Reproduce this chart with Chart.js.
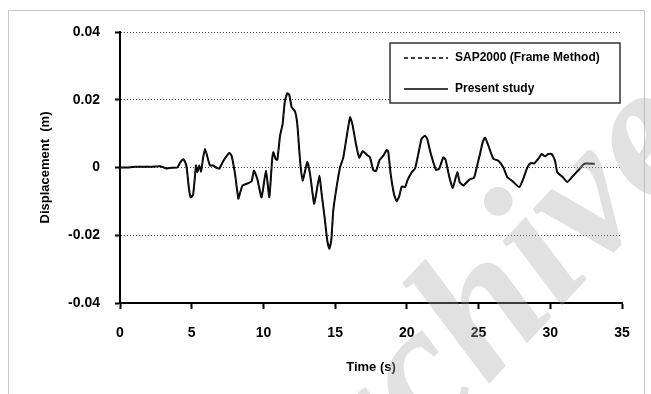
<!DOCTYPE html>
<html>
<head>
<meta charset="utf-8">
<script src="https://cdn.jsdelivr.net/npm/chart.js@4/dist/chart.umd.min.js"></script>
<style>
  html, body { margin: 0; padding: 0; background: #fff; }
  #wrap { width: 651px; height: 394px; position: relative; }
</style>
</head>
<body>
<div id="wrap"><canvas id="c" width="651" height="394"></canvas></div>
<script>
// ---- data ----
const timeS = [0, 0.5, 1.0, 1.5, 2.0, 2.5, 2.8, 3.0, 3.25, 3.6, 4.0, 4.2, 4.42, 4.55, 4.65, 4.8, 4.93, 5.1, 5.3, 5.39,
  5.53, 5.65, 5.8, 5.93, 6.09, 6.27, 6.5, 6.7, 6.93, 7.2, 7.62, 7.78, 8.02, 8.25, 8.37, 8.55, 8.95, 9.18, 9.34, 9.57,
  9.87, 10.18, 10.41, 10.6, 10.69, 10.85, 10.97, 11.16, 11.34, 11.5, 11.67, 11.8, 11.97, 12.2, 12.36, 12.5, 12.6, 12.74, 12.9, 13.06,
  13.25, 13.53, 13.67, 13.9, 14.06, 14.29, 14.45, 14.6, 14.73, 14.87, 15.1, 15.34, 15.57, 15.8, 16.04, 16.2, 16.45, 16.68, 16.92, 17.2,
  17.43, 17.66, 17.85, 18.1, 18.36, 18.59, 18.7, 18.87, 19.1, 19.29, 19.47, 19.64, 19.88, 20.04, 20.34, 20.57, 20.8, 21.03, 21.26, 21.42,
  21.61, 21.84, 22.03, 22.26, 22.54, 22.7, 22.96, 23.2, 23.52, 23.68, 23.94, 24.35, 24.68, 24.87, 25.1, 25.29, 25.45, 25.68, 26.03, 26.38,
  26.73, 27.0, 27.38, 27.84, 28.12, 28.4, 28.63, 28.87, 29.17, 29.4, 29.63, 29.87, 30.1, 30.33, 30.49, 30.86, 31.19, 31.6, 32.07, 32.3,
  32.5, 33.1];

const presentStudy = [0, 0, 0.0002, 0.0002, 0.0002, 0.0003, 0.0004, 0.0001, -0.0003, -0.0001, 0, 0.0015, 0.0024, 0.0015, 0, -0.006, -0.0088, -0.008, 0.0006, -0.0014,
  0.0006, -0.0012, 0.003, 0.0055, 0.0032, 0.0006, 0.0006, 0.0, -0.0003, 0.0019, 0.0043, 0.0035, -0.0019, -0.0092, -0.0075, -0.0053, -0.0046, -0.004, -0.0009, -0.0033,
  -0.0088, -0.0009, -0.0088, 0.002, 0.0045, 0.0025, 0.0023, 0.0094, 0.0129, 0.0198, 0.0219, 0.0215, 0.0178, 0.0166, 0.0129, 0.005, 0.0, -0.0038, -0.0011, 0.0016,
  -0.0019, -0.0107, -0.008, -0.0024, -0.0078, -0.0156, -0.0215, -0.024, -0.0215, -0.0127, -0.0058, 0.0, 0.003, 0.009, 0.0148, 0.0128, 0.007, 0.0029, 0.0048, 0.0038,
  0.003, -0.0008, -0.001, 0.0022, 0.0035, 0.0052, 0.0047, -0.0019, -0.0078, -0.01, -0.0085, -0.0056, -0.0058, -0.0038, -0.0014, -0.0003, 0.004, 0.0085, 0.0094, 0.0085,
  0.005, 0.0016, -0.0007, -0.0003, 0.003, 0.0023, -0.0028, -0.006, -0.0014, -0.0043, -0.0053, -0.0036, -0.003, 0.0, 0.004, 0.0075, 0.0088, 0.0065, 0.0026, 0.002,
  0.0, -0.0028, -0.0041, -0.0058, -0.0033, 0.0, 0.0013, 0.0012, 0.0026, 0.004, 0.0033, 0.004, 0.004, 0.002, -0.0014, -0.0028, -0.0043, -0.0024, -0.0003, 0.0009,
  0.0012, 0.0011];

const sap2000 = [0, 0, 0.0002, 0.0002, 0.0002, 0.0003, 0.0004, 0.0001, -0.0003, -0.0001, 0, 0.0016, 0.0025, 0.0014, 0, -0.0062, -0.009, -0.0081, 0.0005, -0.0015,
  0.0005, -0.0013, 0.0029, 0.0056, 0.0033, 0.0005, 0.0006, 0.0, -0.0004, 0.0018, 0.0044, 0.0034, -0.002, -0.0093, -0.0076, -0.0054, -0.0045, -0.0041, -0.001, -0.0034,
  -0.009, -0.001, -0.0089, 0.0019, 0.0046, 0.0026, 0.0022, 0.0092, 0.0131, 0.0201, 0.0222, 0.0212, 0.0181, 0.0163, 0.0132, 0.0052, 0.0001, -0.0037, -0.0012, 0.0017,
  -0.002, -0.0105, -0.0082, -0.0025, -0.0077, -0.0154, -0.0218, -0.0236, -0.0218, -0.0129, -0.0057, 0.0001, 0.0031, 0.0089, 0.015, 0.0126, 0.0071, 0.0028, 0.0049, 0.0037,
  0.0031, -0.0007, -0.0011, 0.0023, 0.0034, 0.0053, 0.0046, -0.002, -0.0077, -0.0101, -0.0084, -0.0057, -0.0057, -0.0039, -0.0013, -0.0004, 0.0041, 0.0084, 0.0095, 0.0084,
  0.0051, 0.0015, -0.0006, -0.0004, 0.0031, 0.0022, -0.0027, -0.0061, -0.0013, -0.0044, -0.0052, -0.0037, -0.0029, 0.0001, 0.0041, 0.0074, 0.0089, 0.0064, 0.0027, 0.0019,
  0.0001, -0.0027, -0.0042, -0.0057, -0.0034, 0.0001, 0.0012, 0.0013, 0.0025, 0.0041, 0.0032, 0.0041, 0.0039, 0.0021, -0.0013, -0.0029, -0.0042, -0.0025, -0.0002, 0.0008,
  0.0012, 0.0011];

const xTickLabels = ['0', '5', '10', '15', '20', '25', '30', '35'];
const yTickLabels = ['-0.04', '-0.02', '0', '0.02', '0.04'];
const seriesNames = ['SAP2000 (Frame Method)', 'Present study'];
const xTitle = 'Time (s)';
const yTitle = 'Displacement  (m)';
const watermark = 'Archive';

// ---- chart ----
const FONT = '"Liberation Sans", Arial, sans-serif';
const toPts = (ys) => timeS.map((t, i) => ({ x: t, y: ys[i] }));

const frame = {
  id: 'frame',
  beforeDraw(chart) {
    const ctx = chart.ctx;
    ctx.save();
    ctx.fillStyle = '#fff';
    ctx.fillRect(0, 0, chart.width, chart.height);
    ctx.strokeStyle = '#c8c8c8';
    ctx.lineWidth = 1;
    ctx.strokeRect(8.5, 10.5, 636, 400);
    ctx.restore();
  }
};

const boxLegend = {
  id: 'boxLegend',
  afterDatasetsDraw(chart) {
    const ctx = chart.ctx;
    const x0 = 390, y0 = 43, w = 230, h = 60;
    ctx.save();
    ctx.fillStyle = '#fff';
    ctx.fillRect(x0, y0, w, h);
    ctx.strokeStyle = '#333';
    ctx.lineWidth = 1.5;
    ctx.strokeRect(x0, y0, w, h);
    chart.data.datasets.forEach((ds, i) => {
      const yy = 58 + i * 31;
      ctx.beginPath();
      ctx.setLineDash(ds.borderDash || []);
      ctx.strokeStyle = '#000';
      ctx.lineWidth = 1.3;
      ctx.moveTo(404, yy);
      ctx.lineTo(448, yy);
      ctx.stroke();
      ctx.setLineDash([]);
      ctx.fillStyle = '#000';
      ctx.font = 'bold 12px ' + FONT;
      ctx.textBaseline = 'middle';
      ctx.textAlign = 'left';
      ctx.fillText(ds.label, 455, yy);
    });
    ctx.restore();
  }
};

const mark = {
  id: 'mark',
  afterDraw(chart) {
    const ctx = chart.ctx;
    ctx.save();
    ctx.translate(292, 595);
    ctx.rotate(-0.82);
    ctx.font = 'italic bold 190px "Liberation Serif", serif';
    ctx.fillStyle = 'rgba(170,170,170,0.35)';
    ctx.textBaseline = 'alphabetic';
    ctx.fillText(watermark, 0, 0);
    ctx.restore();
  }
};

new Chart(document.getElementById('c'), {
  type: 'line',
  data: {
    datasets: [
      {
        label: seriesNames[0],
        data: toPts(sap2000),
        borderColor: '#222',
        borderWidth: 1,
        borderDash: [4, 3],
        pointRadius: 0,
        tension: 0.15,
        order: 1
      },
      {
        label: seriesNames[1],
        data: toPts(presentStudy),
        borderColor: '#000',
        borderWidth: 2,
        pointRadius: 0,
        tension: 0.15,
        order: 2
      }
    ]
  },
  options: {
    responsive: false,
    animation: false,
    devicePixelRatio: 1,
    layout: { padding: { top: 32, right: 29, left: 0, bottom: 0 } },
    plugins: {
      legend: { display: false },
      tooltip: { enabled: false }
    },
    scales: {
      x: {
        type: 'linear',
        min: 0,
        max: 35,
        afterFit(s) { s.height = 91; },
        afterBuildTicks(s) { s.ticks = xTickLabels.map(v => ({ value: Number(v) })); },
        ticks: {
          color: '#000',
          font: { family: FONT, size: 14, weight: 'bold' },
          padding: 16,
          maxRotation: 0,
          callback: (v, i) => xTickLabels[i]
        },
        grid: {
          drawOnChartArea: false,
          drawTicks: true,
          tickLength: 6,
          tickColor: '#000',
          tickWidth: 2
        },
        border: { display: true, color: '#000', width: 2 },
        title: {
          display: true,
          text: xTitle,
          color: '#000',
          font: { family: FONT, size: 13, weight: 'bold' },
          padding: { top: 0, bottom: 19 }
        }
      },
      y: {
        type: 'linear',
        min: -0.04,
        max: 0.04,
        afterFit(s) { s.width = 120; },
        afterBuildTicks(s) { s.ticks = yTickLabels.map(v => ({ value: Number(v) })); },
        ticks: {
          color: '#000',
          font: { family: FONT, size: 14, weight: 'bold' },
          padding: 15,
          callback: (v, i) => yTickLabels[i]
        },
        grid: {
          drawOnChartArea: true,
          color: '#444',
          lineWidth: 1,
          drawTicks: true,
          tickLength: 5,
          tickColor: '#000',
          tickWidth: 2,
          tickBorderDash: []
        },
        border: { display: true, color: '#000', width: 2, dash: [1, 2] },
        title: {
          display: true,
          text: yTitle,
          color: '#000',
          font: { family: FONT, size: 13, weight: 'bold' },
          padding: { top: 38, bottom: 0 }
        }
      }
    }
  },
  plugins: [frame, boxLegend, mark]
});
</script>
</body>
</html>
